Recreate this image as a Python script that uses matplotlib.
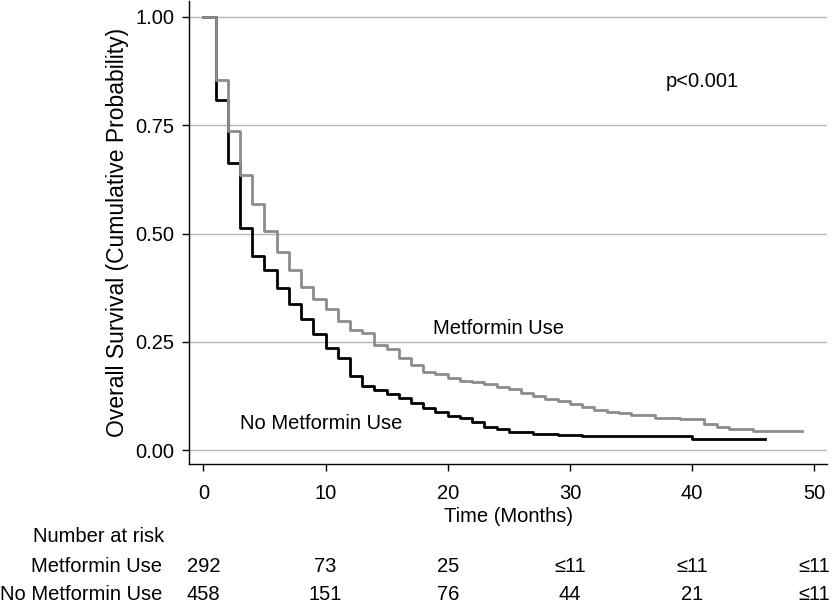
import numpy as np
import matplotlib
matplotlib.use("Agg")
import matplotlib.pyplot as plt
from matplotlib.transforms import blended_transform_factory

# Kaplan-Meier estimates, one step per month
months_met = [0, 1, 2, 3, 4, 5, 6, 7, 8, 9, 10, 11, 12, 13, 14, 15, 16, 17, 18, 19,
              20, 21, 22, 23, 24, 25, 26, 27, 28, 29, 30, 31, 32, 33, 34, 35, 37, 39,
              41, 42, 43, 45, 49]
surv_met = [1.0, 0.854, 0.737, 0.635, 0.568, 0.506, 0.457, 0.417, 0.377, 0.349,
            0.326, 0.298, 0.278, 0.271, 0.242, 0.234, 0.213, 0.196, 0.181, 0.175,
            0.167, 0.160, 0.158, 0.153, 0.146, 0.141, 0.132, 0.125, 0.119, 0.113,
            0.107, 0.100, 0.094, 0.089, 0.086, 0.081, 0.075, 0.072, 0.060, 0.054,
            0.049, 0.045, 0.045]

months_nomet = [0, 1, 2, 3, 4, 5, 6, 7, 8, 9, 10, 11, 12, 13, 14, 15, 16, 17, 18, 19,
                20, 21, 22, 23, 24, 25, 26, 27, 29, 31, 40, 46]
surv_nomet = [1.0, 0.808, 0.662, 0.513, 0.449, 0.417, 0.374, 0.338, 0.303, 0.268,
              0.235, 0.213, 0.172, 0.148, 0.140, 0.129, 0.120, 0.110, 0.098, 0.088,
              0.078, 0.074, 0.066, 0.054, 0.048, 0.043, 0.042, 0.038, 0.035, 0.033,
              0.025, 0.025]

# number at risk table
risk_times = [0, 10, 20, 30, 40, 50]
risk_met = ["292", "73", "25", "\u226411", "\u226411", "\u226411"]
risk_nomet = ["458", "151", "76", "44", "21", "\u226411"]

plt.rcParams['font.family'] = ['Liberation Sans', 'DejaVu Sans']
FS = 14.5

fig = plt.figure(figsize=(8.32, 6.12), dpi=100)
ax = fig.add_axes([0.2275, 0.2423, 0.994 - 0.2275, 0.998 - 0.2423])

# black first so the grey curve sits on top where they overlap
ax.step(months_nomet, surv_nomet, where='post', color='black', lw=2.0)
ax.step(months_met, surv_met, where='post', color='#8c8c8c', lw=2.0)

ax.set_xlim(-1.15, 51.04)
ax.set_ylim(-0.031, 1.036)
ax.set_xticks([0, 10, 20, 30, 40, 50])
ax.set_yticks([0, 0.25, 0.5, 0.75, 1.0])
ax.set_yticklabels(['0.00', '0.25', '0.50', '0.75', '1.00'])
ax.tick_params(axis='both', direction='out', length=5, width=1, colors='black', labelsize=FS)
ax.tick_params(axis='x', pad=9.5)
ax.tick_params(axis='y', pad=6)

ax.grid(True, axis='y', color='#b4b4b4', lw=1)
ax.set_axisbelow(True)
for side in ['top', 'right']:
    ax.spines[side].set_visible(False)
for side in ['left', 'bottom']:
    ax.spines[side].set_linewidth(1)

ax.set_xlabel('Time (Months)', fontsize=FS, labelpad=3)
ax.set_ylabel('Overall Survival (Cumulative Probability)', fontsize=16.5, labelpad=4)

ax.text(18.8, 0.282, 'Metformin Use', fontsize=FS, va='center', ha='left')
ax.text(3.0, 0.061, 'No Metformin Use', fontsize=FS, va='center', ha='left')
ax.text(37.8, 0.85, 'p<0.001', fontsize=FS, va='center', ha='left')

# number at risk below the plot
trans = blended_transform_factory(ax.transData, fig.transFigure)
fig.text(33 / 832, 1 - 537 / 612, 'Number at risk', fontsize=FS, ha='left', va='center')
fig.text(162 / 832, 1 - 566 / 612, 'Metformin Use', fontsize=FS, ha='right', va='center')
fig.text(162 / 832, 1 - 595 / 612, 'No Metformin Use', fontsize=FS, ha='right', va='center')
for t, a, b in zip(risk_times, risk_met, risk_nomet):
    fig.text(t, 1 - 566 / 612, a, fontsize=FS, ha='center', va='center', transform=trans)
    fig.text(t, 1 - 595 / 612, b, fontsize=FS, ha='center', va='center', transform=trans)

fig.savefig('out.png', dpi=100)
